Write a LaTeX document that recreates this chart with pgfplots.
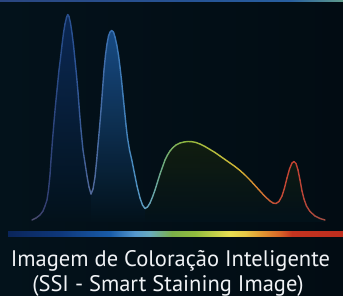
\documentclass[border=0pt]{standalone}
\usepackage{pgfplots}
\pgfplotsset{compat=1.18}
\usepackage{fontspec}
\setmainfont{PT Sans}
\definecolor{bgA}{RGB}{3,18,27}
\definecolor{bgB}{RGB}{2,12,19}
\definecolor{txt}{RGB}{240,242,245}
\pgfplotsset{
  colormap={curvemap}{
    rgb255(0pt)=(80,78,110); rgb255(32pt)=(80,78,110); rgb255(45pt)=(52,62,112);
    rgb255(60pt)=(40,75,135); rgb255(75pt)=(42,82,148); rgb255(91pt)=(82,104,152);
    rgb255(112pt)=(55,112,178); rgb255(135pt)=(75,140,190); rgb255(148pt)=(102,162,192);
    rgb255(165pt)=(112,172,120); rgb255(185pt)=(142,182,62); rgb255(220pt)=(192,192,62);
    rgb255(240pt)=(212,180,52); rgb255(258pt)=(215,130,50); rgb255(275pt)=(195,78,55);
    rgb255(295pt)=(195,65,50); rgb255(325pt)=(160,78,68); rgb255(343pt)=(160,78,68)},
  colormap={barmap}{
    rgb255(0pt)=(10,37,90); rgb255(8pt)=(10,37,90); rgb255(60pt)=(14,55,122);
    rgb255(110pt)=(25,92,168); rgb255(135pt)=(85,152,205); rgb255(150pt)=(105,172,190);
    rgb255(172pt)=(122,176,72); rgb255(195pt)=(145,188,62); rgb255(230pt)=(232,222,82);
    rgb255(245pt)=(230,200,70); rgb255(262pt)=(225,150,50); rgb255(280pt)=(215,100,40);
    rgb255(292pt)=(196,52,32); rgb255(343pt)=(190,45,30)},
  colormap={topmap}{
    rgb255(0pt)=(42,70,128); rgb255(200pt)=(38,84,150); rgb255(290pt)=(40,95,160);
    rgb255(343pt)=(95,155,140)},
}
\pgfplotstableread{
x y
32 220
36 218
40 215
43 211
45 206
47 200
48.5 190
50 175
51 160
52.5 140
54 122
55.5 105
57 90
59 70
60.5 58
62 45
63.5 33
65 24
66.5 17.5
67.7 14.5
69 16.5
70.5 23
72 33
73.5 45
75 60
76.5 75
78 92
79.5 112
81 130
83 150
85 163
87 176
89 187
91 194
93 189
95 177
96.7 160
98 145
99.5 128
101 110
102.5 90
104 70
105.5 55
107 44
108.5 36
110 32
111.7 30.5
113.5 32
115 37
116.8 45
118.5 55
120 67
121.5 80
123 95
124.5 110
126 125
127.5 138
129.5 150
131.8 160
134.2 172
137 186
140 198
142.5 205
145 208.5
147.5 207
150 203
152.5 197
155 190
157.5 182
160 174
162.5 167
165 160
167.5 155
170 151
173 147.5
176 145
180 143
184 142
188 141.5
192 141.7
196 142.5
200 144
205 146.5
210 149.5
215 152.5
220 156
225 159.5
230 163
235 166.5
240 170.5
245 175
250 180
255 185.5
260 191
265 196.5
270 201
273 203
276 203.5
279 201.5
282 196
284.5 188
287 178
289.5 169
292 163
294 161.5
296 163.5
298 170
300 180
302 191
304 199
306.5 206
310 211.5
315 216
320 218.5
325 220
}\curve
\begin{document}
\begin{tikzpicture}
\useasboundingbox (0,0) rectangle (343bp,296bp);
\shade[left color=bgA, right color=bgB] (0,0) rectangle (343bp,296bp);
\begin{axis}[
  at={(0,0)}, anchor=south west,
  scale only axis, width=343bp, height=296bp,
  xmin=0, xmax=343, ymin=0, ymax=296, y dir=reverse,
  hide axis, clip=false,
  point meta min=0, point meta max=343,
]
% fills under the peaks
\addplot[draw=none, top color={rgb,255:red,12;green,42;blue,88}, bottom color=bgA, fill opacity=0.95]
  table[restrict x to domain=32:91] {\curve} -- (axis cs:91,222) -- (axis cs:32,222) -- cycle;
\addplot[draw=none, top color={rgb,255:red,24;green,78;blue,138}, bottom color=bgA, fill opacity=0.95]
  table[restrict x to domain=91:145] {\curve} -- (axis cs:145,222) -- (axis cs:91,222) -- cycle;
\addplot[draw=none, top color={rgb,255:red,20;green,32;blue,14}, bottom color=bgA, fill opacity=0.85]
  table[restrict x to domain=145:325] {\curve} -- (axis cs:325,222) -- (axis cs:145,222) -- cycle;
% curve
\addplot[mesh, colormap name=curvemap, point meta=x, line width=1.4bp, line cap=round, line join=round]
  table {\curve};
% spectrum bar
\addplot[surf, shader=interp, colormap name=barmap, point meta=x] coordinates {
(8,231) (343,231)

(8,236.2) (343,236.2)
};
% top line
\addplot[surf, shader=interp, colormap name=topmap, point meta=x] coordinates {
(0,0) (343,0)

(0,2) (343,2)
};
\node[txt, anchor=base, font=\fontsize{22.5bp}{24bp}\selectfont] at (axis cs:170.5,266) {Imagem de Coloração Inteligente};
\node[txt, anchor=base, font=\fontsize{22.5bp}{24bp}\selectfont] at (axis cs:168,291) {(SSI - Smart Staining Image)};
\end{axis}
\end{tikzpicture}
\end{document}
